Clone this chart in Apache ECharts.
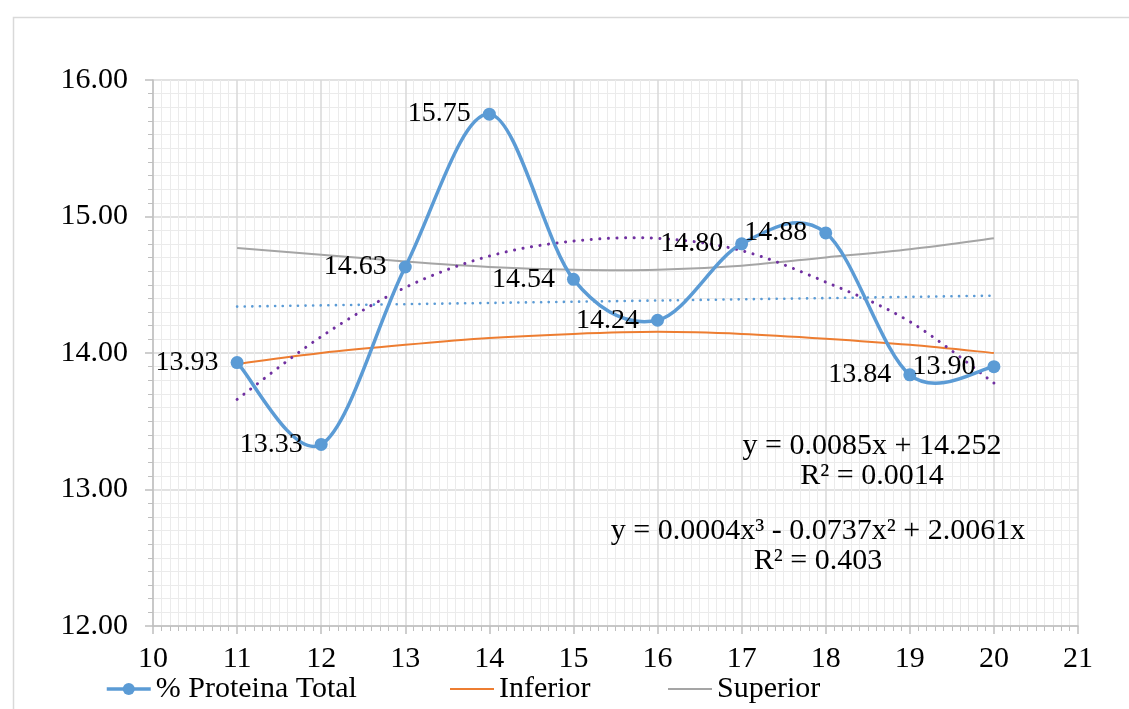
<!DOCTYPE html>
<html>
<head>
<meta charset="utf-8">
<script src="https://cdn.jsdelivr.net/npm/echarts@6/dist/echarts.min.js"></script>
<style>
html,body{margin:0;padding:0;background:#fff;}
#chart{width:1129px;height:709px;}
</style>
</head>
<body>
<div id="chart"></div>
<script>
const xValues = [11, 12, 13, 14, 15, 16, 17, 18, 19, 20];
const proteina = [13.93, 13.33, 14.63, 15.75, 14.54, 14.24, 14.80, 14.88, 13.84, 13.90];
const inferior = [13.92, 14.00, 14.06, 14.11, 14.14, 14.155, 14.14, 14.105, 14.06, 14.00];
const superior = [14.77, 14.72, 14.67, 14.63, 14.61, 14.61, 14.64, 14.70, 14.76, 14.84];
const linearTrendX = [11, 20];
const linearTrend = [14.34, 14.42];
const polyTrend = [13.66, 14.12, 14.48, 14.71, 14.82, 14.84, 14.75, 14.52, 14.23, 13.78];
const seriesNames = ['% Proteina Total', 'Inferior', 'Superior'];
const linearEq = ['y = 0.0085x + 14.252', 'R² = 0.0014'];
const polyEq = ['y = 0.0004x³ - 0.0737x² + 2.0061x', 'R² = 0.403'];

const FONT = '"Liberation Serif", "Times New Roman", serif';
const pair = (xs, ys) => xs.map((x, i) => [x, ys[i]]);

// Smoothed curve (Excel-like, Catmull-Rom Bezier) drawn through the axis scales via api.coord
function curveSeries(name, xs, ys, color, lineStyle, z) {
  return {
    name: name, type: 'custom', coordinateSystem: 'cartesian2d',
    data: pair(xs, ys), encode: { x: 0, y: 1 }, z: z,
    itemStyle: { color: color }, silent: true,
    renderItem: function (params, api) {
      if (params.dataIndex !== 0) return null;
      const n = xs.length;
      const pts = xs.map((x, i) => api.coord([x, ys[i]]));
      const P = k => pts[Math.max(0, Math.min(n - 1, k))];
      const t = 1 / 6;
      let d = 'M' + pts[0][0] + ' ' + pts[0][1];
      for (let i = 0; i < n - 1; i++) {
        const p0 = P(i - 1), p1 = P(i), p2 = P(i + 1), p3 = P(i + 2);
        const c1x = p1[0] + (p2[0] - p0[0]) * t, c1y = p1[1] + (p2[1] - p0[1]) * t;
        const c2x = p2[0] - (p3[0] - p1[0]) * t, c2y = p2[1] - (p3[1] - p1[1]) * t;
        d += ' C' + c1x + ' ' + c1y + ' ' + c2x + ' ' + c2y + ' ' + p2[0] + ' ' + p2[1];
      }
      return {
        type: 'path', shape: { pathData: d },
        style: Object.assign({ fill: null, stroke: color }, lineStyle)
      };
    }
  };
}

const chart = echarts.init(document.getElementById('chart'));
const legendBase = {
  bottom: 0, itemWidth: 44, itemGap: 6,
  textStyle: { fontFamily: FONT, fontSize: 30, color: '#000' }
};
const eqTitle = (x, y, t) => ({
  text: t, left: x, top: y - 16, textAlign: 'center', padding: 0,
  textStyle: { fontFamily: FONT, fontSize: 30, fontWeight: 'normal', color: '#000' }
});
chart.setOption({
  animation: false,
  backgroundColor: '#fff',
  grid: { left: 153, right: 51, top: 80, bottom: 83 },
  title: [
    eqTitle(872, 447, linearEq[0]),
    eqTitle(872, 477, linearEq[1]),
    eqTitle(818, 532, polyEq[0]),
    eqTitle(818, 562, polyEq[1])
  ],
  legend: [
    Object.assign({ data: [seriesNames[0]], left: 100, itemHeight: 15,
      lineStyle: { color: '#5B9BD5', width: 3.5, opacity: 1 } }, legendBase),
    Object.assign({ data: [{ name: seriesNames[1], icon: 'rect' }], left: 445, itemHeight: 2 }, legendBase),
    Object.assign({ data: [{ name: seriesNames[2], icon: 'rect' }], left: 663, itemHeight: 2 }, legendBase)
  ],
  xAxis: {
    type: 'value', min: 10, max: 21, interval: 1,
    axisLine: { lineStyle: { color: '#BFBFBF', width: 1.5 } },
    axisTick: { show: true, length: 8, lineStyle: { color: '#BFBFBF', width: 1.5 } },
    minorTick: { show: true, splitNumber: 10, length: 5, lineStyle: { color: '#BFBFBF', width: 1 } },
    axisLabel: { fontFamily: FONT, fontSize: 30, color: '#000', margin: 18 },
    splitLine: { show: true, lineStyle: { color: '#D9D9D9', width: 1.5 } },
    minorSplitLine: { show: true, lineStyle: { color: '#EBEBEB', width: 1 } }
  },
  yAxis: {
    type: 'value', min: 12, max: 16, interval: 1,
    axisLine: { show: true, lineStyle: { color: '#BFBFBF', width: 1.5 } },
    axisTick: { show: true, length: 8, lineStyle: { color: '#BFBFBF', width: 1.5 } },
    minorTick: { show: true, splitNumber: 10, length: 5, lineStyle: { color: '#BFBFBF', width: 1 } },
    axisLabel: { fontFamily: FONT, fontSize: 30, color: '#000', margin: 25,
      formatter: v => v.toFixed(2) },
    splitLine: { show: true, lineStyle: { color: '#D9D9D9', width: 1.5 } },
    minorSplitLine: { show: true, lineStyle: { color: '#EBEBEB', width: 1 } }
  },
  graphic: [
    { type: 'rect', left: 11, top: 15, shape: { width: 1140, height: 720 },
      style: { fill: 'none', stroke: '#D9D9D9', lineWidth: 1.5 }, silent: true, z: -10 }
  ],
  series: [
    curveSeries(seriesNames[1], xValues, inferior, '#ED7D31', { lineWidth: 2 }, 2),
    curveSeries(seriesNames[2], xValues, superior, '#A5A5A5', { lineWidth: 2 }, 2),
    {
      name: 'Lineal', type: 'line', data: pair(linearTrendX, linearTrend),
      symbol: 'none', lineStyle: { color: '#5B9BD5', width: 2.6, type: [0.1, 7.5], cap: 'round' }, z: 2
    },
    curveSeries('Polinómica', xValues, polyTrend, '#7030A0',
      { lineWidth: 3, lineDash: [0.1, 8.5], lineCap: 'round' }, 2),
    curveSeries('Proteina curva', xValues, proteina, '#5B9BD5', { lineWidth: 3.5 }, 4),
    {
      name: seriesNames[0], type: 'line', data: pair(xValues, proteina),
      symbol: 'circle', symbolSize: 13, color: '#5B9BD5',
      itemStyle: { color: '#5B9BD5' },
      lineStyle: { color: '#5B9BD5', width: 0, opacity: 0 },
      label: { show: true, position: 'left', distance: 12, fontFamily: FONT, fontSize: 28, color: '#000',
        formatter: p => p.value[1].toFixed(2) },
      z: 5
    }
  ]
});
</script>
</body>
</html>
